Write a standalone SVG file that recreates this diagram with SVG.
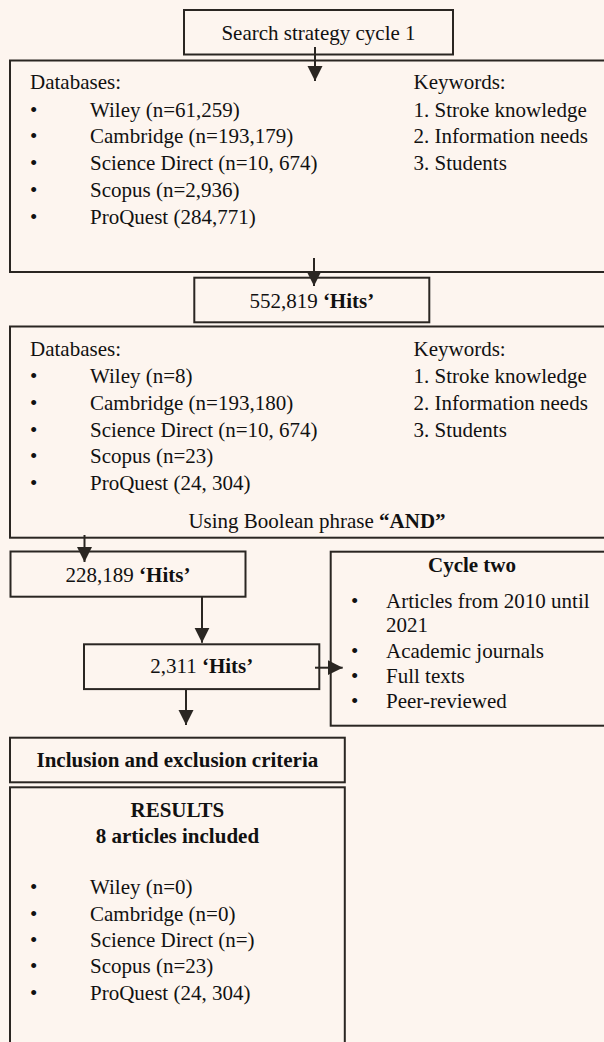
<svg xmlns="http://www.w3.org/2000/svg" width="604" height="1042" viewBox="0 0 604 1042">
<defs>
<marker id="ah" markerUnits="userSpaceOnUse" markerWidth="16" markerHeight="16" viewBox="0 0 16 16" refX="15" refY="8" orient="auto">
<path d="M0,0.5 L15,8 L0,15.5 Z" fill="#2a2622"/>
</marker>
<style>
.box{fill:#fdf5ef;stroke:#2a2622;stroke-width:2}
.t{font-family:"Liberation Serif","Times New Roman",serif;font-size:21px;fill:#111}
.c{text-anchor:middle}
.b{font-weight:bold}
.conn{stroke:#2a2622;stroke-width:2;fill:none;marker-end:url(#ah)}
</style>
</defs>
<rect x="0" y="0" width="604" height="1042" fill="#fdf5ef"/>

<g id="n-start">
<rect class="box" x="184" y="10" width="269" height="44.5"/>
<text class="t c" x="318.5" y="40">Search strategy cycle 1</text>
</g>

<g id="n-cycle1">
<rect class="box" x="10" y="60.5" width="610" height="211.5"/>
<text class="t" x="30" y="89.3">Databases:</text>
<text class="t" x="30" y="116.5">•</text><text class="t" x="90" y="116.5">Wiley (n=61,259)</text>
<text class="t" x="30" y="143.3">•</text><text class="t" x="90" y="143.3">Cambridge (n=193,179)</text>
<text class="t" x="30" y="170.4">•</text><text class="t" x="90" y="170.4">Science Direct (n=10, 674)</text>
<text class="t" x="30" y="197.2">•</text><text class="t" x="90" y="197.2">Scopus (n=2,936)</text>
<text class="t" x="30" y="224">•</text><text class="t" x="90" y="224">ProQuest (284,771)</text>
<text class="t" x="413.5" y="89.3">Keywords:</text>
<text class="t" x="413.5" y="116.5">1. Stroke knowledge</text>
<text class="t" x="413.5" y="143.3">2. Information needs</text>
<text class="t" x="413.5" y="170.4">3. Students</text>
</g>

<g id="n-hits1">
<rect class="box" x="194.3" y="277.7" width="235" height="44.6"/>
<text class="t c" x="311.8" y="308.3">552,819 <tspan class="b">‘Hits’</tspan></text>
</g>

<g id="n-boolean">
<rect class="box" x="10" y="326.5" width="610" height="211.2"/>
<text class="t" x="30" y="356">Databases:</text>
<text class="t" x="30" y="383">•</text><text class="t" x="90" y="383">Wiley (n=8)</text>
<text class="t" x="30" y="410">•</text><text class="t" x="90" y="410">Cambridge (n=193,180)</text>
<text class="t" x="30" y="436.7">•</text><text class="t" x="90" y="436.7">Science Direct (n=10, 674)</text>
<text class="t" x="30" y="463.3">•</text><text class="t" x="90" y="463.3">Scopus (n=23)</text>
<text class="t" x="30" y="490">•</text><text class="t" x="90" y="490">ProQuest (24, 304)</text>
<text class="t" x="413.5" y="356">Keywords:</text>
<text class="t" x="413.5" y="383">1. Stroke knowledge</text>
<text class="t" x="413.5" y="410">2. Information needs</text>
<text class="t" x="413.5" y="436.7">3. Students</text>
<text class="t c" x="317" y="528">Using Boolean phrase <tspan class="b">“AND”</tspan></text>
</g>

<g id="n-hits2">
<rect class="box" x="10.5" y="551.5" width="235" height="45.2"/>
<text class="t c" x="128" y="581.7">228,189 <tspan class="b">‘Hits’</tspan></text>
</g>

<g id="n-hits3">
<rect class="box" x="84" y="644.3" width="235.3" height="44.8"/>
<text class="t c" x="201.7" y="673">2,311 <tspan class="b">‘Hits’</tspan></text>
</g>

<g id="n-cycle2">
<rect class="box" x="330.7" y="551.7" width="290" height="174"/>
<text class="t c b" x="472" y="571.7">Cycle two</text>
<text class="t" x="351" y="608.3">•</text><text class="t" x="386" y="608.3">Articles from 2010 until</text>
<text class="t" x="386" y="631.7">2021</text>
<text class="t" x="351" y="658.3">•</text><text class="t" x="386" y="658.3">Academic journals</text>
<text class="t" x="351" y="683.3">•</text><text class="t" x="386" y="683.3">Full texts</text>
<text class="t" x="351" y="708.3">•</text><text class="t" x="386" y="708.3">Peer-reviewed</text>
</g>

<g id="n-criteria">
<rect class="box" x="10" y="737.7" width="334.8" height="44.6"/>
<text class="t c b" x="177.4" y="766.7">Inclusion and exclusion criteria</text>
</g>

<g id="n-results">
<rect class="box" x="10" y="787.3" width="334.8" height="270"/>
<text class="t c b" x="177.4" y="816.7">RESULTS</text>
<text class="t c b" x="177.4" y="842.7">8 articles included</text>
<text class="t" x="30" y="894">•</text><text class="t" x="90" y="894">Wiley (n=0)</text>
<text class="t" x="30" y="920.7">•</text><text class="t" x="90" y="920.7">Cambridge (n=0)</text>
<text class="t" x="30" y="946.7">•</text><text class="t" x="90" y="946.7">Science Direct (n=)</text>
<text class="t" x="30" y="973.3">•</text><text class="t" x="90" y="973.3">Scopus (n=23)</text>
<text class="t" x="30" y="1000">•</text><text class="t" x="90" y="1000">ProQuest (24, 304)</text>
</g>

<g id="connectors">
<line class="conn" x1="315" y1="47" x2="315" y2="81"/>
<line class="conn" x1="314" y1="258" x2="314" y2="286"/>
<line class="conn" x1="84.5" y1="535" x2="84.5" y2="562"/>
<line class="conn" x1="202" y1="597" x2="202" y2="642.7"/>
<line class="conn" x1="315" y1="667.7" x2="342.7" y2="667.7"/>
<line class="conn" x1="186" y1="689" x2="186" y2="725"/>
</g>
</svg>
